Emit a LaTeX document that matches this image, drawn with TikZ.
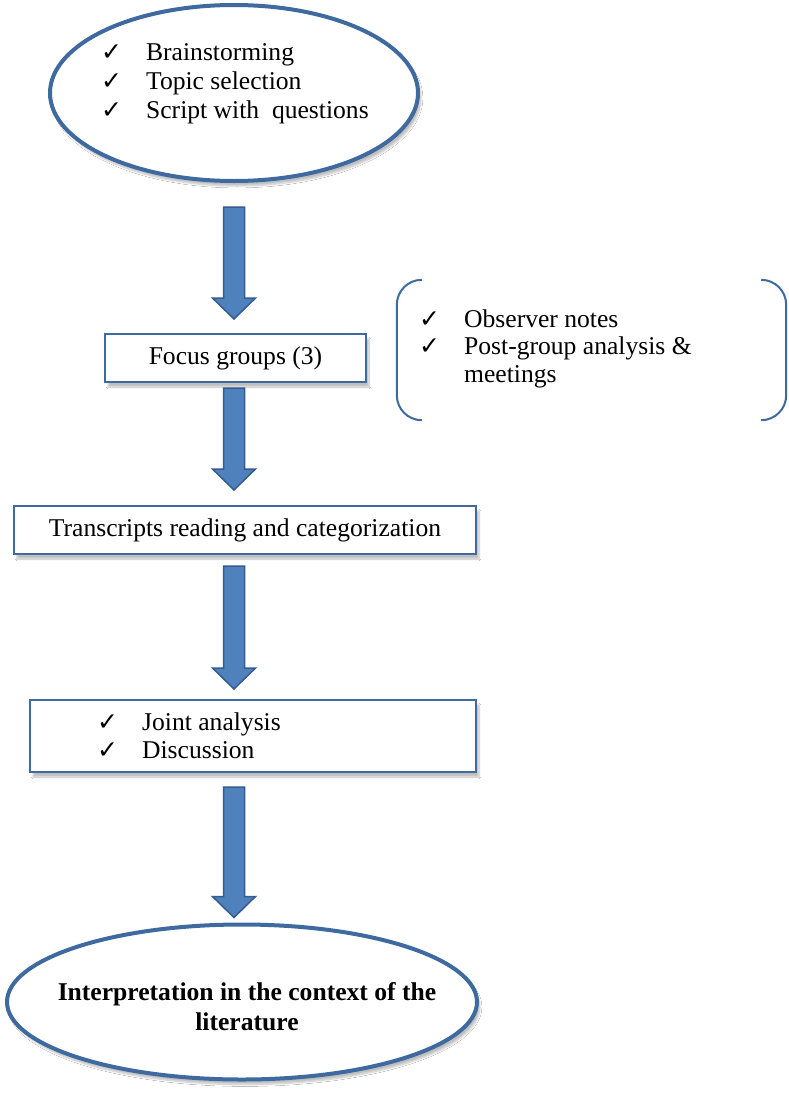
\documentclass[tikz,border=0pt]{standalone}
\usepackage{fontspec}
\setmainfont{Liberation Serif}
\newfontfamily\ckfont{DejaVu Sans}
\usetikzlibrary{shapes.geometric,calc,shadows.blur}
\definecolor{edgeblue}{RGB}{62,106,160}
\definecolor{arrfill}{RGB}{79,129,189}
\definecolor{arrline}{RGB}{52,92,145}
\newcommand{\ck}{{\ckfont\fontsize{25}{25}\selectfont ✓}}
\newcommand{\blockarr}[2]{%
  \draw[arrowsty] ($(#1)+(-10.5,0)$) -- ($(#2)+(-10.5,-21)$) -- ($(#2)+(-21.5,-21)$) -- (#2)
    -- ($(#2)+(21.5,-21)$) -- ($(#2)+(10.5,-21)$) -- ($(#1)+(10.5,0)$) -- cycle;}
\tikzset{
  softshadow/.style={blur shadow={shadow xshift=3pt,shadow yshift=-5pt,shadow opacity=25,shadow blur steps=8}},
  ellbox/.style={ellipse, draw=edgeblue, line width=4pt, fill=white, softshadow},
  rectbox/.style={rectangle, draw=edgeblue, line width=2pt, fill=white, softshadow},
  txt/.style={inner sep=0pt, font=\fontsize{25.6}{29}\selectfont},
  arrowsty/.style={draw=arrline, fill=arrfill, line width=1.5pt, line join=miter},
  brkline/.style={draw=edgeblue, line width=2pt, rounded corners=25pt}
}
\begin{document}
\begin{tikzpicture}[x=1pt,y=-1pt]
\useasboundingbox[fill=white] (0,0) rectangle (788,1098);

% top ellipse
\node[ellbox, minimum width=368, minimum height=176] (top) at (234,93) {};
\node[txt, anchor=west] (toptxt) at (101,84) {\begin{tabular}{@{}l@{\hspace{24pt}}l@{}}
\ck & Brainstorming\\
\ck & Topic selection\\
\ck & Script with~ questions
\end{tabular}};

% focus groups
\node[rectbox, txt, minimum width=261, minimum height=48] (fg) at (235.5,358) {Focus groups (3)};

% bracket side note
\node[minimum width=389, minimum height=140, inner sep=0pt] (brk) at (591.5,350) {};
\draw[brkline] ([xshift=25pt]brk.north west) -- (brk.north west) -- (brk.south west) -- ([xshift=25pt]brk.south west);
\draw[brkline] ([xshift=-25pt]brk.north east) -- (brk.north east) -- (brk.south east) -- ([xshift=-25pt]brk.south east);
\node[txt, anchor=west, font=\fontsize{25.6}{27.5}\selectfont] (brktxt) at (419,349) {\begin{tabular}{@{}l@{\hspace{24pt}}l@{}}
\ck & Observer notes\\
\ck & Post-group analysis \&\\
    & meetings
\end{tabular}};

% transcripts
\node[rectbox, txt, minimum width=462, minimum height=48] (tr) at (245,530) {Transcripts reading and categorization};

% joint analysis
\node[rectbox, minimum width=446, minimum height=72] (jt) at (253,736) {};
\node[txt, anchor=west, font=\fontsize{25.6}{28}\selectfont] (jttxt) at (97,739) {\begin{tabular}{@{}l@{\hspace{24pt}}l@{}}
\ck & Joint analysis\\
\ck & Discussion
\end{tabular}};

% bottom ellipse
\node[ellbox, minimum width=470, minimum height=155] (bot) at (242,1002) {};
\node[txt, align=center, font=\fontsize{25.6}{30}\selectfont\bfseries] (bottxt) at (247,1007) {Interpretation in the context of the\\literature};

% block arrows
\coordinate (a1s) at ($(top.south -| 234,0)+(0,24)$);
\coordinate (a1e) at ($(fg.north -| a1s)+(0,-14)$);
\coordinate (a2s) at ($(fg.south -| a1s)+(0,5)$);
\coordinate (a2e) at ($(tr.north -| a1s)+(0,-15)$);
\coordinate (a3s) at ($(tr.south -| a1s)+(0,11)$);
\coordinate (a3e) at ($(jt.north -| a1s)+(0,-10)$);
\coordinate (a4s) at ($(jt.south -| a1s)+(0,14)$);
\coordinate (a4e) at ($(bot.north -| a1s)+(0,-5)$);
\blockarr{a1s}{a1e}
\blockarr{a2s}{a2e}
\blockarr{a3s}{a3e}
\blockarr{a4s}{a4e}
\end{tikzpicture}
\end{document}
